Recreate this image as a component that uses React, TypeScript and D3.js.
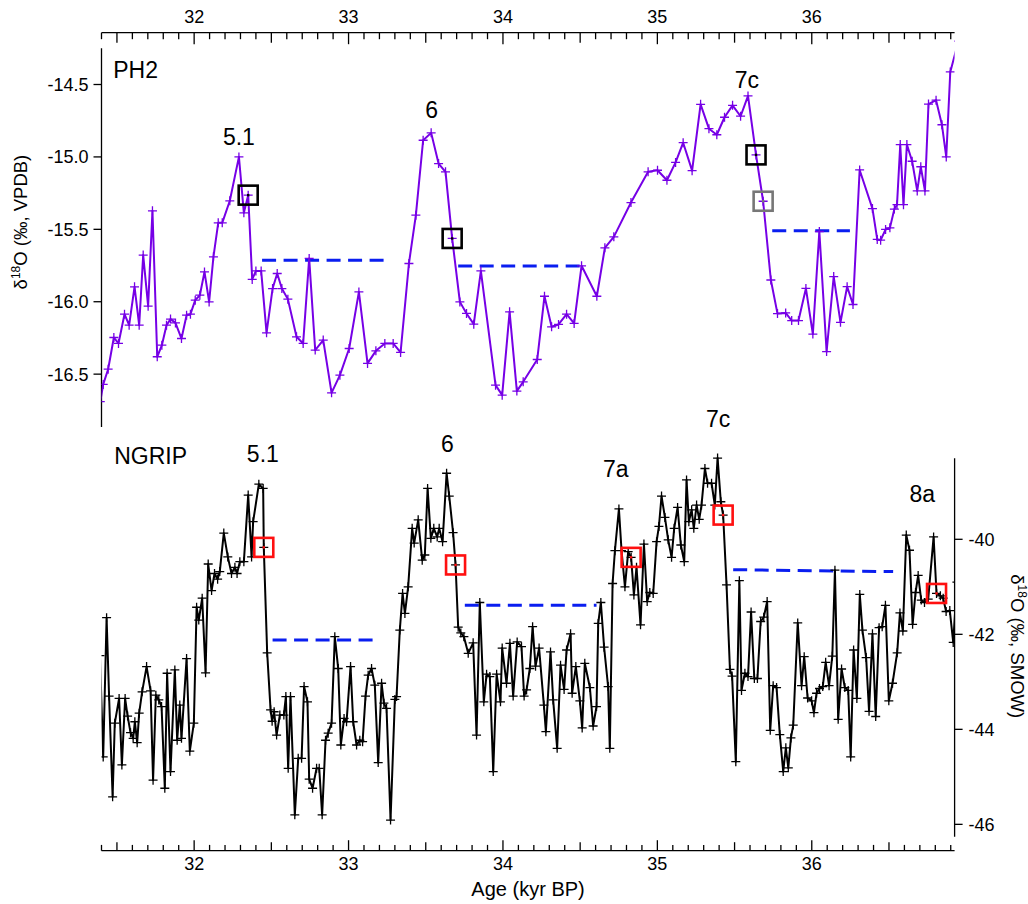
import React from 'react';
import * as d3 from 'd3';

// PH2 stalagmite record: [age (kyr BP), δ18O (‰ VPDB)]
const ph2Series: [number, number][] = [
  [31.392, -16.69], [31.411, -16.571], [31.443, -16.466], [31.48, -16.247], [31.51, -16.288],
  [31.549, -16.086], [31.579, -16.162], [31.614, -15.897], [31.644, -16.162], [31.67, -15.678],
  [31.702, -16.031], [31.73, -15.372], [31.761, -16.38], [31.791, -16.3], [31.821, -16.162],
  [31.847, -16.12], [31.879, -16.146], [31.918, -16.254], [31.951, -16.093], [31.976, -16.086],
  [32.007, -15.989], [32.037, -15.955], [32.067, -15.794], [32.097, -16.001], [32.125, -15.69],
  [32.156, -15.455], [32.182, -15.455], [32.231, -15.303], [32.29, -15.0], [32.322, -15.386],
  [32.35, -15.264], [32.376, -15.846], [32.4, -15.787], [32.434, -15.787], [32.469, -16.215],
  [32.508, -15.909], [32.538, -15.805], [32.568, -15.909], [32.607, -15.982], [32.663, -16.242],
  [32.706, -16.288], [32.745, -15.701], [32.784, -16.334], [32.836, -16.265], [32.89, -16.629],
  [32.944, -16.507], [33.004, -16.323], [33.067, -15.932], [33.123, -16.426], [33.177, -16.339],
  [33.235, -16.288], [33.289, -16.288], [33.337, -16.35], [33.391, -15.736], [33.436, -15.402],
  [33.483, -14.885], [33.535, -14.834], [33.583, -15.046], [33.628, -15.103], [33.671, -15.563],
  [33.721, -16.001], [33.764, -16.081], [33.811, -16.155], [33.857, -15.787], [33.952, -16.576],
  [33.995, -16.645], [34.043, -16.07], [34.09, -16.617], [34.131, -16.553], [34.222, -16.399],
  [34.269, -15.962], [34.315, -16.173], [34.36, -16.157], [34.412, -16.086], [34.461, -16.15],
  [34.509, -15.752], [34.608, -15.962], [34.66, -15.628], [34.718, -15.552], [34.829, -15.315],
  [34.94, -15.103], [35.001, -15.092], [35.062, -15.161], [35.118, -15.038], [35.167, -14.902],
  [35.225, -15.095], [35.28, -14.637], [35.334, -14.805], [35.385, -14.847], [35.435, -14.726],
  [35.487, -14.644], [35.539, -14.719], [35.587, -14.579], [35.639, -14.986], [35.685, -15.306],
  [35.735, -15.85], [35.778, -16.082], [35.831, -16.077], [35.87, -16.13], [35.914, -16.13],
  [35.962, -15.908], [36.007, -16.223], [36.049, -15.515], [36.096, -16.344], [36.142, -15.826],
  [36.186, -16.142], [36.229, -15.896], [36.267, -16.019], [36.31, -15.09], [36.393, -15.357],
  [36.424, -15.57], [36.446, -15.575], [36.478, -15.501], [36.506, -15.49], [36.535, -15.36],
  [36.552, -15.33], [36.573, -14.915], [36.594, -15.33], [36.616, -14.915], [36.65, -15.03],
  [36.683, -15.235], [36.706, -15.068], [36.733, -15.235], [36.756, -14.635], [36.805, -14.608],
  [36.843, -14.778], [36.871, -15.0], [36.897, -14.413], [36.95, -14.2],
];

// NGRIP ice core: [age (kyr BP), δ18O (‰ SMOW)]
const ngripSeries: [number, number][] = [
  [31.39, -42.45], [31.411, -44.58], [31.433, -41.65], [31.449, -43.3], [31.472, -45.42],
  [31.486, -43.87], [31.514, -43.35], [31.532, -44.75], [31.553, -43.35], [31.569, -43.72],
  [31.588, -44.07], [31.605, -44.19], [31.616, -43.84], [31.631, -44.28], [31.644, -43.66],
  [31.663, -43.21], [31.692, -42.68], [31.718, -43.19], [31.734, -45.07], [31.752, -43.28],
  [31.771, -43.38], [31.789, -43.52], [31.81, -45.24], [31.825, -42.82], [31.847, -44.89],
  [31.875, -42.75], [31.89, -44.23], [31.907, -43.49], [31.918, -44.19], [31.951, -42.51],
  [31.972, -44.46], [31.998, -43.87], [32.016, -41.43], [32.03, -41.7], [32.052, -41.24],
  [32.074, -42.81], [32.091, -40.52], [32.113, -41.08], [32.132, -40.72], [32.152, -40.84],
  [32.166, -40.68], [32.192, -39.87], [32.218, -40.37], [32.242, -40.72], [32.264, -40.59],
  [32.278, -40.72], [32.296, -40.47], [32.322, -40.47], [32.35, -39.07], [32.372, -40.37],
  [32.382, -39.63], [32.419, -38.84], [32.447, -38.93], [32.451, -40.17], [32.473, -42.39],
  [32.495, -43.59], [32.505, -43.83], [32.518, -43.63], [32.534, -44.12], [32.555, -43.7],
  [32.581, -43.7], [32.594, -43.31], [32.609, -44.82], [32.624, -43.31], [32.652, -45.8],
  [32.674, -44.61], [32.696, -44.61], [32.712, -43.1], [32.734, -43.42], [32.745, -45.05],
  [32.767, -45.24], [32.793, -44.82], [32.81, -44.82], [32.829, -45.8], [32.851, -44.23],
  [32.868, -44.08], [32.89, -43.87], [32.911, -42.05], [32.933, -42.72], [32.95, -44.33],
  [32.971, -43.77], [32.987, -43.84], [33.013, -42.68], [33.03, -43.84], [33.052, -44.33],
  [33.073, -44.23], [33.091, -44.26], [33.11, -43.3], [33.127, -42.86], [33.149, -42.72],
  [33.17, -43.07], [33.192, -44.7], [33.214, -43.03], [33.229, -43.45], [33.246, -43.56],
  [33.272, -45.91], [33.3, -43.37], [33.311, -43.31], [33.332, -41.91], [33.35, -41.14],
  [33.365, -41.56], [33.386, -41.0], [33.412, -39.77], [33.425, -40.08], [33.451, -39.59],
  [33.477, -40.44], [33.494, -40.33], [33.512, -38.93], [33.533, -39.98], [33.552, -39.77],
  [33.574, -39.95], [33.587, -39.77], [33.609, -40.05], [33.635, -38.61], [33.652, -39.09],
  [33.677, -39.86], [33.693, -40.54], [33.71, -41.85], [33.727, -41.97], [33.747, -42.05],
  [33.775, -42.4], [33.807, -42.18], [33.829, -44.12], [33.85, -41.33], [33.876, -43.42],
  [33.894, -42.84], [33.915, -42.89], [33.937, -44.89], [33.959, -42.84], [33.984, -43.42],
  [33.995, -42.29], [34.023, -43.03], [34.045, -42.19], [34.066, -43.3], [34.092, -42.16],
  [34.12, -42.26], [34.137, -43.3], [34.153, -43.17], [34.174, -42.72], [34.192, -41.84],
  [34.211, -42.67], [34.234, -42.29], [34.265, -43.49], [34.278, -44.05], [34.308, -42.37],
  [34.325, -43.38], [34.351, -44.4], [34.373, -42.65], [34.396, -43.16], [34.412, -42.33],
  [34.438, -41.99], [34.448, -43.24], [34.472, -42.68], [34.498, -43.4], [34.513, -43.97],
  [34.53, -42.61], [34.563, -43.12], [34.584, -43.93], [34.606, -43.52], [34.617, -41.77],
  [34.634, -41.33], [34.655, -42.27], [34.681, -43.1], [34.692, -44.4], [34.71, -40.93],
  [34.725, -40.24], [34.751, -39.36], [34.768, -40.24], [34.79, -41.0], [34.811, -40.26],
  [34.83, -40.38], [34.848, -41.17], [34.865, -40.59], [34.891, -41.8], [34.913, -40.1],
  [34.934, -41.31], [34.951, -41.12], [34.973, -41.14], [34.995, -40.05], [35.01, -39.73],
  [35.027, -39.09], [35.049, -39.54], [35.07, -40.01], [35.092, -40.38], [35.109, -39.77],
  [35.131, -39.33], [35.152, -40.12], [35.174, -40.47], [35.189, -38.75], [35.204, -39.63],
  [35.222, -39.38], [35.236, -39.77], [35.254, -39.28], [35.271, -39.58], [35.286, -39.28],
  [35.308, -38.51], [35.325, -38.82], [35.351, -38.82], [35.372, -39.28], [35.39, -38.29],
  [35.411, -39.21], [35.426, -39.49], [35.448, -40.96], [35.47, -42.74], [35.484, -42.88],
  [35.508, -44.68], [35.531, -40.87], [35.545, -43.18], [35.567, -42.82], [35.587, -42.89],
  [35.607, -41.53], [35.628, -42.93], [35.648, -42.93], [35.669, -41.73], [35.689, -41.64],
  [35.711, -41.31], [35.731, -44.02], [35.75, -43.08], [35.772, -43.12], [35.793, -44.11],
  [35.815, -44.89], [35.832, -44.39], [35.848, -44.81], [35.865, -44.18], [35.88, -43.91],
  [35.909, -41.76], [35.934, -43.08], [35.951, -42.47], [35.973, -43.34], [35.999, -43.4],
  [36.014, -43.65], [36.031, -43.24], [36.05, -43.14], [36.071, -43.1], [36.09, -42.59],
  [36.112, -43.08], [36.133, -42.46], [36.15, -40.65], [36.171, -43.79], [36.193, -42.73],
  [36.214, -43.12], [36.236, -43.18], [36.252, -44.58], [36.271, -42.33], [36.292, -43.35],
  [36.311, -41.16], [36.328, -41.91], [36.352, -42.49], [36.371, -43.62], [36.393, -41.99],
  [36.414, -43.73], [36.436, -41.86], [36.456, -41.84], [36.477, -41.39], [36.499, -43.4],
  [36.523, -43.03], [36.553, -42.39], [36.571, -41.55], [36.59, -41.93], [36.612, -39.91],
  [36.633, -40.23], [36.653, -41.79], [36.672, -41.12], [36.689, -40.76], [36.709, -41.28],
  [36.73, -41.33], [36.754, -41.26], [36.789, -39.95], [36.808, -41.14], [36.833, -41.19],
  [36.851, -41.24], [36.87, -41.52], [36.894, -41.5], [36.916, -42.17], [36.94, -40.9],
];

// Tie points (ages of the highlighted samples)
const ph2TieAges = [32.35, 33.671, 35.639];
const ph2AltTieAges = [35.685];
const ngripTieAges = [32.451, 33.693, 34.83, 35.426, 36.808];

// Stadial mean levels: [start age, end age, start value, end value]
const ph2Stadials: [number, number, number, number][] = [
  [32.44, 33.235, -15.713, -15.713],
  [33.71, 34.54, -15.754, -15.754],
  [35.744, 36.247, -15.51, -15.51],
];
const ngripStadials: [number, number, number, number][] = [
  [32.508, 33.159, -42.12, -42.12],
  [33.753, 34.606, -41.39, -41.39],
  [35.491, 36.527, -40.64, -40.68],
];

// Interstadial labels: [text, age, value]
const ph2Events: [string, number, number][] = [
  ['5.1', 32.29, -14.919],
  ['6', 33.538, -14.728],
  ['7c', 35.58, -14.526],
];
const ngripEvents: [string, number, number][] = [
  ['5.1', 32.445, -38.38],
  ['6', 33.64, -38.16],
  ['7a', 34.73, -38.68],
  ['7c', 35.394, -37.64],
  ['8a', 36.715, -39.21],
];

const ageTicks = d3.range(314, 370);
const ageLabels = [32, 33, 34, 35, 36];
const ph2Ticks = [-14.5, -15.0, -15.5, -16.0, -16.5];
const ngripTicks = [-40, -42, -44, -46];

const W = 1028;
const H = 904;
const FONT = '"Liberation Sans", Arial, Helvetica, sans-serif';
const PURPLE = '#7600e6';
const BLUE = '#0a1ef0';
const RED = '#ff1010';

const x = d3.scaleLinear().domain([31.4, 36.925]).range([101.5, 954.6]);
const yPH2 = d3.scaleLinear().domain([-16.865, -14.25]).range([427, 48.3]);
const yNG = d3.scaleLinear().domain([-46.26, -38.295]).range([836.7, 458.3]);

const TOP_AXIS_Y = 32.7;
const BOTTOM_AXIS_Y = 850.7;
const LEFT_AXIS_X = x(31.4);
const RIGHT_AXIS_X = x(36.925);

function nearest(series: [number, number][], age: number): [number, number] {
  const i = d3.minIndex(series, (d) => Math.abs(d[0] - age));
  return series[i];
}

function Record({ series, y, color }: { series: [number, number][]; y: d3.ScaleLinear<number, number>; color: string }) {
  const line = d3
    .line<[number, number]>()
    .x((d) => x(d[0]))
    .y((d) => y(d[1]));
  const s = 4.5;
  const crosses = series
    .map((d) => {
      const px = x(d[0]);
      const py = y(d[1]);
      return `M${px - s},${py}H${px + s}M${px},${py - s}V${py + s}`;
    })
    .join('');
  return (
    <g clipPath="url(#plotClip)">
      <path d={line(series) || ''} fill="none" stroke={color} strokeWidth={2} strokeLinejoin="round" />
      <path d={crosses} fill="none" stroke={color} strokeWidth={1.3} />
    </g>
  );
}

function TieBoxes({ series, ages, y, color }: { series: [number, number][]; ages: number[]; y: d3.ScaleLinear<number, number>; color: string }) {
  const size = 19;
  return (
    <g>
      {ages.map((a, i) => {
        const d = nearest(series, a);
        const px = x(d[0]);
        const py = y(d[1]);
        return (
          <g key={i}>
            <rect x={px - size / 2} y={py - size / 2} width={size} height={size} fill="none" stroke={color} strokeWidth={2.6} />
            <rect x={px - 1.2} y={py - 1.2} width={2.4} height={2.4} fill={color} />
          </g>
        );
      })}
    </g>
  );
}

function Stadials({ levels, y }: { levels: [number, number, number, number][]; y: d3.ScaleLinear<number, number> }) {
  return (
    <g>
      {levels.map((l, i) => (
        <line key={i} x1={x(l[0])} x2={x(l[1])} y1={y(l[2])} y2={y(l[3])} stroke={BLUE} strokeWidth={3} strokeDasharray="14 7.5" />
      ))}
    </g>
  );
}

function Events({ events, y }: { events: [string, number, number][]; y: d3.ScaleLinear<number, number> }) {
  return (
    <g fontFamily={FONT} fontSize={23} fill="#000" textAnchor="middle">
      {events.map((e, i) => (
        <text key={i} x={x(e[1])} y={y(e[2])}>
          {e[0]}
        </text>
      ))}
    </g>
  );
}

export default function App() {
  const tickLen = (i: number) => (i % 10 === 0 ? 11.5 : i % 5 === 0 ? 10 : 6.5);
  const tickLenBottom = (i: number) => (i % 10 === 0 ? 10.5 : i % 5 === 0 ? 8.5 : 5.8);

  return (
    <svg
      width={W}
      height={H}
      viewBox={`0 0 ${W} ${H}`}
      style={{ position: 'absolute', left: 0, top: 0, background: '#fff' }}
      fontFamily={FONT}
    >
      <defs>
        <clipPath id="plotClip">
          <rect x={LEFT_AXIS_X} y={0} width={RIGHT_AXIS_X - LEFT_AXIS_X} height={H} />
        </clipPath>
      </defs>
      <rect x={0} y={0} width={W} height={H} fill="#fff" />

      {/* top age axis */}
      <g stroke="#000" strokeWidth={1.3}>
        <line x1={LEFT_AXIS_X} x2={RIGHT_AXIS_X} y1={TOP_AXIS_Y} y2={TOP_AXIS_Y} />
        {ageTicks.map((i) => (
          <line key={i} x1={x(i / 10)} x2={x(i / 10)} y1={TOP_AXIS_Y} y2={TOP_AXIS_Y + tickLen(i)} />
        ))}
      </g>
      <g fontSize={18} textAnchor="middle" fill="#000">
        {ageLabels.map((a) => (
          <text key={a} x={x(a)} y={TOP_AXIS_Y - 9.5}>
            {a}
          </text>
        ))}
      </g>

      {/* bottom age axis */}
      <g stroke="#000" strokeWidth={1.3}>
        <line x1={LEFT_AXIS_X} x2={RIGHT_AXIS_X} y1={BOTTOM_AXIS_Y} y2={BOTTOM_AXIS_Y} />
        {ageTicks.map((i) => (
          <line key={i} x1={x(i / 10)} x2={x(i / 10)} y1={BOTTOM_AXIS_Y} y2={BOTTOM_AXIS_Y - tickLenBottom(i)} />
        ))}
      </g>
      <g fontSize={18} textAnchor="middle" fill="#000">
        {ageLabels.map((a) => (
          <text key={a} x={x(a)} y={BOTTOM_AXIS_Y + 19}>
            {a}
          </text>
        ))}
      </g>
      <text x={(LEFT_AXIS_X + RIGHT_AXIS_X) / 2} y={BOTTOM_AXIS_Y + 45} fontSize={20} textAnchor="middle">
        Age (kyr BP)
      </text>

      {/* left PH2 axis */}
      <g stroke="#000" strokeWidth={1.3}>
        <line x1={LEFT_AXIS_X} x2={LEFT_AXIS_X} y1={yPH2(-14.25)} y2={yPH2(-16.865)} />
        {ph2Ticks.map((t) => (
          <line key={t} x1={LEFT_AXIS_X - 8} x2={LEFT_AXIS_X} y1={yPH2(t)} y2={yPH2(t)} />
        ))}
      </g>
      <g fontSize={18} textAnchor="end" fill="#000">
        {ph2Ticks.map((t) => (
          <text key={t} x={LEFT_AXIS_X - 13} y={yPH2(t) + 6.5}>
            {d3.format('.1f')(t).replace('−', '-')}
          </text>
        ))}
      </g>
      <text
        transform={`translate(27,${yPH2(-15.45)}) rotate(-90)`}
        fontSize={18.5}
        textAnchor="middle"
      >
        δ<tspan dy={-7} fontSize={12}>18</tspan>
        <tspan dy={7}>O (‰, VPDB)</tspan>
      </text>

      {/* right NGRIP axis */}
      <g stroke="#000" strokeWidth={1.3}>
        <line x1={RIGHT_AXIS_X} x2={RIGHT_AXIS_X} y1={yNG(-38.295)} y2={yNG(-46.26)} />
        {ngripTicks.map((t) => (
          <line key={t} x1={RIGHT_AXIS_X} x2={RIGHT_AXIS_X + 8} y1={yNG(t)} y2={yNG(t)} />
        ))}
      </g>
      <g fontSize={18} textAnchor="start" fill="#000">
        {ngripTicks.map((t) => (
          <text key={t} x={RIGHT_AXIS_X + 14} y={yNG(t) + 6.5}>
            {String(t)}
          </text>
        ))}
      </g>
      <text
        transform={`translate(1011,${yNG(-42.25)}) rotate(90)`}
        fontSize={18.5}
        textAnchor="middle"
      >
        δ<tspan dy={-7} fontSize={12}>18</tspan>
        <tspan dy={7}>O (‰, SMOW)</tspan>
      </text>

      {/* PH2 panel */}
      <Stadials levels={ph2Stadials} y={yPH2} />
      <Record series={ph2Series} y={yPH2} color={PURPLE} />
      <TieBoxes series={ph2Series} ages={ph2TieAges} y={yPH2} color="#000" />
      <TieBoxes series={ph2Series} ages={ph2AltTieAges} y={yPH2} color="#777" />
      <Events events={ph2Events} y={yPH2} />
      <text x={x(31.476)} y={yPH2(-14.454)} fontSize={23}>PH2</text>

      {/* NGRIP panel */}
      <Stadials levels={ngripStadials} y={yNG} />
      <Record series={ngripSeries} y={yNG} color="#000" />
      <TieBoxes series={ngripSeries} ages={ngripTieAges} y={yNG} color={RED} />
      <Events events={ngripEvents} y={yNG} />
      <text x={x(31.482)} y={yNG(-38.42)} fontSize={23}>NGRIP</text>
    </svg>
  );
}
